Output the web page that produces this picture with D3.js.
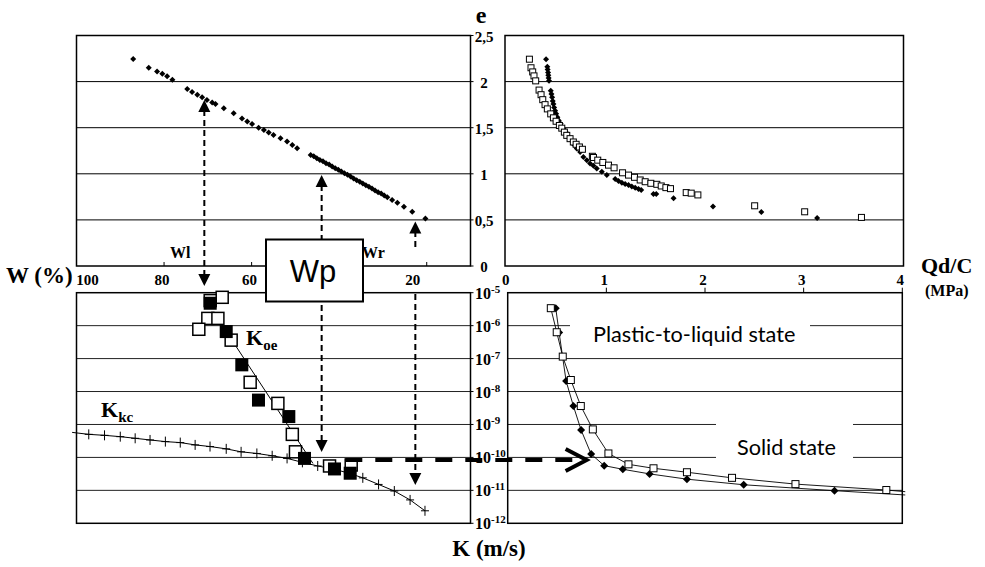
<!DOCTYPE html>
<html><head><meta charset="utf-8">
<script src="https://cdn.jsdelivr.net/npm/d3@7"></script>
<style>body{margin:0;background:#fff}svg{display:block}</style>
</head><body>
<svg id="c" width="985" height="567"></svg>
<script>
// ---------- DATA ----------
// Top-left: void ratio e vs water content W (%)
const tlW = [87.05,83.5,81.6,80.4,79.3,78.1,74.7,73.6,72.4,71.3,70.2,69.0,68.25,66.35,64.1,62.2,61.0,59.9,58.4,57.2,56.1,55.0,53.4,51.9,50.7,49.6,
  46.5,45.8,45.1,44.4,43.7,43.0,42.3,41.6,40.9,40.2,39.5,38.8,38.1,37.4,36.7,36.0,35.3,34.6,33.9,33.2,32.5,31.8,31.1,30.4,29.7,29.0,
  27.9,26.7,25.2,23.3,20.3];
const tlE = [2.246,2.15,2.11,2.086,2.057,2.02,1.92,1.887,1.857,1.83,1.80,1.774,1.756,1.71,1.658,1.60,1.567,1.54,1.50,1.476,1.447,1.42,1.386,1.35,1.313,1.277,
  1.205,1.19,1.17,1.15,1.135,1.115,1.10,1.08,1.06,1.045,1.025,1.005,0.99,0.97,0.95,0.93,0.915,0.895,0.875,0.86,0.84,0.82,0.80,0.785,0.765,0.745,
  0.715,0.686,0.642,0.588,0.516];

// Top-right: e vs Qd/C (MPa) – open squares and filled diamonds
const trSqQ = [0.245,0.261,0.278,0.291,0.308,0.342,0.362,0.379,0.402,0.425,0.459,0.486,0.513,0.546,0.57,0.596,0.62,0.653,0.686,0.714,0.747,0.777,0.877,0.888,0.931,0.982,1.039,1.095,1.18,1.24,1.30,1.357,1.407,1.464,1.524,1.568,1.615,1.661,1.819,1.869,1.936,2.506,3.008,3.578];
const trSqE = [2.243,2.15,2.105,2.062,2.008,1.908,1.858,1.804,1.75,1.704,1.65,1.607,1.57,1.524,1.495,1.452,1.417,1.381,1.345,1.32,1.291,1.266,1.19,1.177,1.148,1.123,1.094,1.065,1.011,0.986,0.962,0.933,0.914,0.897,0.886,0.868,0.85,0.839,0.796,0.79,0.771,0.653,0.588,0.527];
const trDiQ = [0.412,0.425,0.428,0.432,0.435,0.438,0.442,0.459,0.466,0.473,0.479,0.486,0.493,0.503,0.513,0.526,0.539,0.559,0.587,0.613,0.637,0.663,0.687,0.72,0.754,0.787,0.821,0.854,0.888,0.921,0.972,1.022,1.106,1.139,1.173,1.206,1.24,1.273,1.307,1.34,1.367,1.49,1.518,1.692,2.088,2.573,3.133];
const trDiE = [2.243,2.16,2.13,2.10,2.07,2.04,2.01,1.90,1.866,1.83,1.79,1.757,1.72,1.685,1.65,1.614,1.578,1.542,1.488,1.452,1.399,1.363,1.32,1.274,1.237,1.183,1.148,1.112,1.087,1.058,1.022,0.986,0.943,0.922,0.904,0.89,0.879,0.861,0.85,0.836,0.825,0.782,0.782,0.736,0.645,0.585,0.521];

// Bottom-left: permeability K (log10 m/s) vs W (%)
const koeOpenW = [66.72,69.46,70.0,72.06,67.7,64.67,60.33,54.0,50.7,49.98,42.2,37.25];
const koeOpenK = [-5.14,-5.24,-5.78,-6.11,-5.78,-6.44,-7.72,-8.36,-9.30,-9.83,-10.26,-10.23];
const koeFillW = [69.46,65.8,62.24,58.43,51.5,47.92,41.07,37.48];
const koeFillK = [-5.32,-6.18,-7.19,-8.26,-8.76,-10.03,-10.35,-10.48];
const koeLineW = [68.5,46.0];
const koeLineK = [-5.63,-10.18];
const kkcStartW = 101.0, kkcStartK = -9.24;
const kkcW = [97.2,93.6,90.0,86.6,83.2,79.7,76.3,72.9,69.5,65.8,62.4,58.8,55.3,51.9,48.4,44.9,41.4,38.0,34.6,31.0,27.4,23.8,20.4];
const kkcK = [-9.30,-9.33,-9.37,-9.42,-9.47,-9.52,-9.55,-9.62,-9.67,-9.74,-9.83,-9.88,-9.95,-10.03,-10.15,-10.26,-10.35,-10.47,-10.62,-10.82,-11.02,-11.29,-11.62];

// Bottom-right: K vs Qd/C
const brSqQ = [0.437,0.497,0.558,0.64,0.741,0.863,1.021,1.224,1.478,1.817,2.274,2.917,3.838];
const brSqK = [-5.47,-6.20,-6.94,-7.65,-8.44,-9.15,-9.88,-10.21,-10.33,-10.45,-10.62,-10.81,-10.99];
const brSqTail = [4.03,-11.04];
const brDiQ = [0.487,0.521,0.592,0.666,0.744,0.846,0.978,1.167,1.438,1.817,2.392,3.313];
const brDiK = [-5.47,-6.21,-7.68,-8.44,-9.17,-9.90,-10.25,-10.36,-10.50,-10.66,-10.83,-11.01];
const brDiTail = [4.03,-11.14];

// ticks
const eTicks = [0,0.5,1,1.5,2,2.5];
const eTickLabels = ["0","0,5","1","1,5","2","2,5"];
const wTicks = [100,80,60,20];
const wMinorTicks = [80,60,40,20];
const qTicks = [0,1,2,3,4];
const kExps = [-5,-6,-7,-8,-9,-10,-11,-12];

// annotation positions (data units)
const arrowWl = 70.8, arrowWp = 44.0, arrowWr = 22.6;

// ---------- SCALES ----------
const svg = d3.select("#c");
const xW = d3.scaleLinear().domain([100,10]).range([76.5,470.5]);
const yE = d3.scaleLinear().domain([0,2.5]).range([266,35.5]);
const xQt = d3.scaleLinear().domain([0,4]).range([505,903.5]);
const xQb = d3.scaleLinear().domain([0,4]).range([507.7,902.3]);
const yK = d3.scaleLog().domain([1e-12,1e-5]).range([523.3,292.7]);
const k = e => yK(Math.pow(10,e));

const serif = "'Liberation Serif','Times New Roman',serif";
const sans = "'Liberation Sans',Arial,sans-serif";
const diaPath = r => `M0,${-r}L${r},0L0,${r}L${-r},0Z`;

// ---------- GRIDS ----------
const g = svg.append("g");
[0.5,1,1.5,2].forEach(v=>{
  g.append("line").attr("x1",xW.range()[0]).attr("x2",xW.range()[1]).attr("y1",yE(v)).attr("y2",yE(v)).attr("stroke","#000").attr("stroke-width",1);
  g.append("line").attr("x1",xQt.range()[0]).attr("x2",xQt.range()[1]).attr("y1",yE(v)).attr("y2",yE(v)).attr("stroke","#000").attr("stroke-width",1);
});
kExps.slice(1,-1).forEach(e=>{
  g.append("line").attr("x1",xW.range()[0]).attr("x2",xW.range()[1]).attr("y1",k(e)).attr("y2",k(e)).attr("stroke","#222").attr("stroke-width",1);
  g.append("line").attr("x1",xQb.range()[0]).attr("x2",xQb.range()[1]).attr("y1",k(e)).attr("y2",k(e)).attr("stroke","#222").attr("stroke-width",1);
});

// ---------- PANEL FRAMES ----------
function frame(x0,x1,y0,y1){
  svg.append("rect").attr("x",x0).attr("y",y0).attr("width",x1-x0).attr("height",y1-y0)
    .attr("fill","none").attr("stroke","#000").attr("stroke-width",1.5);
}
frame(xW.range()[0],xW.range()[1],yE.range()[1],yE.range()[0]);
frame(xQt.range()[0],xQt.range()[1],yE.range()[1],yE.range()[0]);
frame(xW.range()[0],xW.range()[1],yK.range()[1],yK.range()[0]);
frame(xQb.range()[0],xQb.range()[1],yK.range()[1],yK.range()[0]);

// small ticks
wMinorTicks.forEach(w=>{
  svg.append("line").attr("x1",xW(w)).attr("x2",xW(w)).attr("y1",yE(0)).attr("y2",yE(0)-4).attr("stroke","#000");
});
eTicks.forEach(v=>{
  svg.append("line").attr("x1",xW.range()[1]).attr("x2",xW.range()[1]+3).attr("y1",yE(v)).attr("y2",yE(v)).attr("stroke","#000");
});
kExps.forEach(e=>{
  svg.append("line").attr("x1",xW.range()[1]).attr("x2",xW.range()[1]+3).attr("y1",k(e)).attr("y2",k(e)).attr("stroke","#000");
});
qTicks.slice(1).forEach(q=>{
  svg.append("line").attr("x1",xQb(q)).attr("x2",xQb(q)).attr("y1",yK.range()[1]).attr("y2",yK.range()[1]-5).attr("stroke","#000");
});

// ---------- TOP-LEFT DATA ----------
svg.append("g").selectAll("path").data(d3.range(tlW.length)).join("path")
  .attr("d",diaPath(3)).attr("transform",i=>`translate(${xW(tlW[i])},${yE(tlE[i])})`).attr("fill","#000");

// ---------- TOP-RIGHT DATA ----------
svg.append("g").selectAll("path").data(d3.range(trDiQ.length)).join("path")
  .attr("d",diaPath(3)).attr("transform",i=>`translate(${xQt(trDiQ[i])},${yE(trDiE[i])})`).attr("fill","#000");
svg.append("g").selectAll("rect").data(d3.range(trSqQ.length)).join("rect")
  .attr("x",i=>xQt(trSqQ[i])-3).attr("y",i=>yE(trSqE[i])-3).attr("width",6).attr("height",6)
  .attr("fill","#fff").attr("stroke","#000").attr("stroke-width",1);

// ---------- BOTTOM-RIGHT ----------
// white boxes behind labels
svg.append("rect").attr("x",570).attr("y",316).attr("width",240).attr("height",36).attr("fill","#fff");
svg.append("rect").attr("x",716).attr("y",419).attr("width",137).attr("height",43).attr("fill","#fff");
svg.append("text").attr("x",593).attr("y",341.5).attr("font-family","Lato,'Open Sans',sans-serif").attr("font-size",21.7).text("Plastic-to-liquid state");
svg.append("text").attr("x",737).attr("y",454.5).attr("font-family","Lato,'Open Sans',sans-serif").attr("font-size",21.7).text("Solid state");

const lineBR = d3.line().x(d=>xQb(d[0])).y(d=>k(d[1]));
const sqPts = brSqQ.map((q,i)=>[q,brSqK[i]]).concat([brSqTail]);
const diPts = brDiQ.map((q,i)=>[q,brDiK[i]]).concat([brDiTail]);
svg.append("path").attr("d",lineBR(sqPts)).attr("fill","none").attr("stroke","#000").attr("stroke-width",0.9);
svg.append("path").attr("d",lineBR(diPts)).attr("fill","none").attr("stroke","#000").attr("stroke-width",0.9);
svg.append("g").selectAll("path").data(d3.range(brDiQ.length)).join("path")
  .attr("d",diaPath(4)).attr("transform",i=>`translate(${xQb(brDiQ[i])},${k(brDiK[i])})`).attr("fill","#000");
svg.append("g").selectAll("rect").data(d3.range(brSqQ.length)).join("rect")
  .attr("x",i=>xQb(brSqQ[i])-3.5).attr("y",i=>k(brSqK[i])-3.5).attr("width",7).attr("height",7)
  .attr("fill","#fff").attr("stroke","#000").attr("stroke-width",1);

// ---------- BOTTOM-LEFT ----------
const lineBL = d3.line().x(d=>xW(d[0])).y(d=>k(d[1]));
const kkcPts = [[kkcStartW,kkcStartK]].concat(kkcW.map((w,i)=>[w,kkcK[i]]));
svg.append("path").attr("d",lineBL(kkcPts)).attr("fill","none").attr("stroke","#000").attr("stroke-width",1);
kkcW.forEach((w,i)=>{
  const x=xW(w), y=k(kkcK[i]);
  svg.append("path").attr("d",`M${x-4},${y}H${x+4}M${x},${y-5}V${y+5}`).attr("stroke","#000").attr("stroke-width",1);
});
svg.append("path").attr("d",lineBL(koeLineW.map((w,i)=>[w,koeLineK[i]]))).attr("fill","none").attr("stroke","#000").attr("stroke-width",1);
svg.append("g").selectAll("rect").data(d3.range(koeOpenW.length)).join("rect")
  .attr("x",i=>xW(koeOpenW[i])-6).attr("y",i=>k(koeOpenK[i])-6).attr("width",12).attr("height",12)
  .attr("fill","#fff").attr("stroke","#000").attr("stroke-width",1.5);
svg.append("g").selectAll("rect").data(d3.range(koeFillW.length)).join("rect")
  .attr("x",i=>xW(koeFillW[i])-6.5).attr("y",i=>k(koeFillK[i])-6.5).attr("width",13).attr("height",13)
  .attr("fill","#000");

// K labels
function subLabel(x,y,main,sub){
  const t=svg.append("text").attr("x",x).attr("y",y).attr("font-family",serif).attr("font-weight","bold").attr("font-size",22);
  t.append("tspan").text(main);
  t.append("tspan").attr("font-size",15).attr("dy",5).text(sub);
}
subLabel(246,345,"K","oe");
subLabel(101,417,"K","kc");

// ---------- ARROWS ----------
function tri(x,tipY,dir){ // dir -1 up, +1 down
  const h=12,w=6;
  svg.append("path").attr("d",`M${x},${tipY}L${x-w},${tipY-dir*h}L${x+w},${tipY-dir*h}Z`).attr("fill","#000");
}
function dashed(x,y1,y2){
  svg.append("line").attr("x1",x).attr("x2",x).attr("y1",y1).attr("y2",y2)
    .attr("stroke","#000").attr("stroke-width",2).attr("stroke-dasharray","6,4");
}
// Wl
dashed(xW(arrowWl),110,276); tri(xW(arrowWl),100,-1); tri(xW(arrowWl),286,1);
// Wp
dashed(xW(arrowWp),185,442); tri(xW(arrowWp),175,-1); tri(xW(arrowWp),452,1);
// Wr
dashed(xW(arrowWr),231,249); tri(xW(arrowWr),221.5,-1);
dashed(xW(arrowWr),294,475); tri(xW(arrowWr),485,1);

// horizontal thick arrow at K = 1e-10
const yH = k(-10)+2.5;
svg.append("line").attr("x1",xW(38.6)).attr("x2",xQb(0.80)-4).attr("y1",yH).attr("y2",yH)
  .attr("stroke","#000").attr("stroke-width",4).attr("stroke-dasharray","17,13");
svg.append("path").attr("d",`M${xQb(0.80)-21},${yH-11}L${xQb(0.80)},${yH}L${xQb(0.80)-21},${yH+11}`)
  .attr("fill","none").attr("stroke","#000").attr("stroke-width",4).attr("stroke-linejoin","miter");

// ---------- AXIS TEXT ----------
const bold = (x,y,txt,size,anchor)=>svg.append("text").attr("x",x).attr("y",y).attr("font-family",serif)
  .attr("font-weight","bold").attr("font-size",size).attr("text-anchor",anchor||"middle").text(txt);

eTicks.forEach((v,i)=>bold(484,yE(v)+6,eTickLabels[i],15));
wTicks.forEach(w=>bold(w===100?xW(w)+11:(w===20?xW(w)-14:xW(w)-2),285,String(w),15));
qTicks.forEach(q=>bold(xQb(q)-2,285,String(q),15));
kExps.forEach(e=>{
  const t=svg.append("text").attr("x",475).attr("y",k(e)+6).attr("font-family",serif).attr("font-weight","bold").attr("font-size",16);
  t.append("tspan").text("10");
  t.append("tspan").attr("font-size",11).attr("dy",-6).text(String(e));
});

bold(481,23,"e",24);
bold(6,283,"W (%)",23,"start");
bold(921,273,"Qd/C",22,"start");
bold(925,296,"(MPa)",16,"start");
bold(489,556,"K (m/s)",23);
bold(170,258,"Wl",16,"start");
bold(362,258,"Wr",16,"start");

// Wp box
svg.append("rect").attr("x",266).attr("y",239.5).attr("width",97).attr("height",62).attr("fill","#fff").attr("stroke","#000").attr("stroke-width",2);
svg.append("text").attr("x",313).attr("y",282).attr("text-anchor","middle").attr("font-family",sans).attr("font-size",31).text("Wp");
</script>
</body></html>
